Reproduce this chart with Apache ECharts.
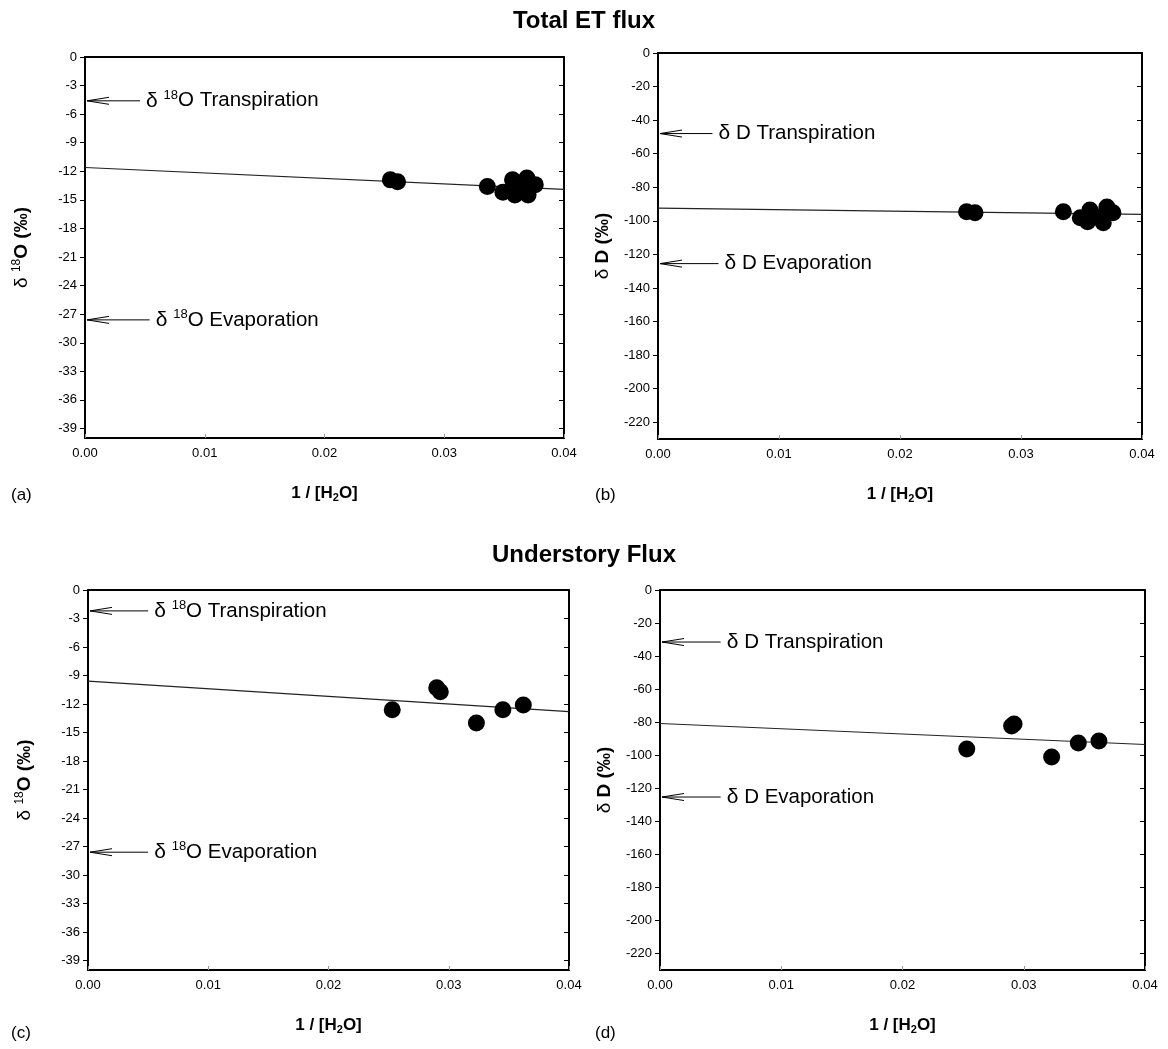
<!DOCTYPE html>
<html>
<head>
<meta charset="utf-8">
<script src="https://cdn.jsdelivr.net/npm/echarts@6/dist/echarts.min.js"></script>
<style>
html,body{margin:0;padding:0;background:#fff;}
#chart{width:1168px;height:1049px;}
</style>
</head>
<body>
<div id="chart"></div>
<script>
// ---------- data ----------
const xTicks = [0, 0.01, 0.02, 0.03, 0.04];
const yTicksO = [0, -3, -6, -9, -12, -15, -18, -21, -24, -27, -30, -33, -36, -39];
const yTicksD = [0, -20, -40, -60, -80, -100, -120, -140, -160, -180, -200, -220];

// (a) Total ET flux, d18O
const xA = [0.0255, 0.0261, 0.0336, 0.0349, 0.0357, 0.0359, 0.0369, 0.0370, 0.0376, 0.0365];
const yA = [-12.9, -13.1, -13.6, -14.2, -12.9, -14.5, -12.7, -14.5, -13.4, -13.7];
const lineA = [-11.6, -13.9];
// (b) Total ET flux, dD
const xB = [0.0255, 0.0262, 0.0335, 0.0349, 0.0357, 0.0355, 0.0371, 0.0368, 0.0376, 0.0363];
const yB = [-94.6, -95.2, -94.6, -98.2, -93.5, -100.6, -91.7, -101.2, -95.2, -97.6];
const lineB = [-92.4, -96.1];
// (c) Understory flux, d18O
const xC = [0.0253, 0.0290, 0.0293, 0.0323, 0.0345, 0.0362];
const yC = [-12.6, -10.3, -10.7, -14.0, -12.6, -12.1];
const lineC = [-9.6, -12.8];
// (d) Understory flux, dD
const xD = [0.0253, 0.0292, 0.0290, 0.0323, 0.0345, 0.0362];
const yD = [-96.2, -81.1, -82.3, -101.1, -92.6, -91.4];
const lineD = [-80.8, -93.5];
const lineX = [0, 0.04];

// annotations: [arrow tail x, y, kind]
const annoA = [[0.0046, -4.6, 'T'], [0.0054, -27.6, 'E']];
const annoB = [[0.0045, -48, 'T'], [0.0050, -125.5, 'E']];
const annoC = [[0.0050, -2.2, 'T'], [0.0050, -27.6, 'E']];
const annoD = [[0.0050, -31.5, 'T'], [0.0050, -125.3, 'E']];

// ---------- layout ----------
const FONT = 'Liberation Sans, Arial, Helvetica, sans-serif';
const grids = [
  {left: 85, top: 57, width: 479, height: 381},
  {left: 658, top: 53, width: 484, height: 386},
  {left: 88, top: 590, width: 481, height: 380},
  {left: 660, top: 590, width: 485, height: 380}
];
const panels = [
  {x: xA, y: yA, line: lineA, anno: annoA, iso: 'O', min: -40, ticks: yTicksO},
  {x: xB, y: yB, line: lineB, anno: annoB, iso: 'D', min: -230, ticks: yTicksD},
  {x: xC, y: yC, line: lineC, anno: annoC, iso: 'O', min: -40, ticks: yTicksO},
  {x: xD, y: yD, line: lineD, anno: annoD, iso: 'D', min: -230, ticks: yTicksD}
];

const frameLine = {show: true, onZero: false, lineStyle: {color: '#000', width: 2}};
const xAxes = [], yAxes = [], series = [];
panels.forEach((p, i) => {
  xAxes.push({
    gridIndex: i, type: 'value', min: 0, max: 0.04, position: 'bottom',
    axisLine: frameLine,
    axisTick: {show: true, inside: true, length: 4, customValues: xTicks, lineStyle: {color: '#999', width: 1}},
    axisLabel: {customValues: xTicks, formatter: v => v.toFixed(2), fontSize: 13, color: '#000', fontFamily: FONT, margin: 9},
    splitLine: {show: false},
    name: '{b|1 / [H}{s|2}{b|O]}',
    nameLocation: 'middle', nameGap: 46,
    nameTextStyle: {
      rich: {
        b: {fontSize: 17, fontWeight: 'bold', color: '#000', fontFamily: FONT},
        s: {fontSize: 11, fontWeight: 'bold', color: '#000', fontFamily: FONT, padding: [8, 0, 0, 0]}
      }
    }
  });
  xAxes.push({
    gridIndex: i, type: 'value', min: 0, max: 0.04, position: 'top',
    axisLine: frameLine,
    axisTick: {show: false}, axisLabel: {show: false}, splitLine: {show: false}
  });
  const yname = p.iso === 'O' ? '{d|δ }{s|18}{b|O (‰)}' : '{d|δ }{b|D (‰)}';
  yAxes.push({
    gridIndex: i, type: 'value', min: p.min, max: 0, position: 'left',
    axisLine: frameLine,
    axisTick: {show: true, inside: false, length: 5, customValues: p.ticks, lineStyle: {color: '#000', width: 1}},
    axisLabel: {customValues: p.ticks, fontSize: 13, color: '#000', fontFamily: FONT, margin: 8},
    splitLine: {show: false},
    name: yname, nameLocation: 'middle', nameRotate: 90, nameGap: p.iso === 'O' ? 52 : 46,
    nameTextStyle: {
      rich: {
        d: {fontSize: 19, color: '#000', fontFamily: FONT},
        b: {fontSize: 19, fontWeight: 'bold', color: '#000', fontFamily: FONT},
        s: {fontSize: 12, color: '#000', fontFamily: FONT, padding: [0, 0, 10, 0]}
      }
    }
  });
  yAxes.push({
    gridIndex: i, type: 'value', min: p.min, max: 0, position: 'right',
    axisLine: frameLine,
    axisTick: {show: true, inside: true, length: 5, customValues: p.ticks, lineStyle: {color: '#000', width: 1}},
    axisLabel: {show: false}, splitLine: {show: false}
  });

  series.push({
    type: 'line', xAxisIndex: 2 * i, yAxisIndex: 2 * i,
    data: lineX.map((x, k) => [x, p.line[k]]),
    symbol: 'none', lineStyle: {color: '#222', width: 1.2}, z: 2, silent: true
  });
  series.push({
    type: 'scatter', xAxisIndex: 2 * i, yAxisIndex: 2 * i,
    data: p.x.map((x, k) => [x, p.y[k]]),
    symbol: 'circle', symbolSize: 17, itemStyle: {color: '#000', opacity: 1}, z: 3, silent: true
  });
  series.push({
    type: 'custom', xAxisIndex: 2 * i, yAxisIndex: 2 * i, z: 4, silent: true,
    data: p.anno,
    renderItem: function (params, api) {
      const tailX = api.value(0), yv = api.value(1);
      const kind = p.anno[params.dataIndex][2];
      const tip = api.coord([0, yv]);
      const tail = api.coord([tailX, yv]);
      tip[0] += 2;
      const word = kind === 'T' ? 'Transpiration' : 'Evaporation';
      const txt = p.iso === 'O'
        ? '{d|δ }{s|18}{n|O ' + word + '}'
        : '{d|δ }{n|D ' + word + '}';
      return {
        type: 'group',
        children: [
          {type: 'line', shape: {x1: tail[0], y1: tail[1], x2: tip[0], y2: tip[1]},
           style: {stroke: '#000', lineWidth: 1}},
          {type: 'polyline', shape: {points: [[tip[0] + 22, tip[1] - 3.5], [tip[0], tip[1]], [tip[0] + 22, tip[1] + 3.5]]},
           style: {stroke: '#000', lineWidth: 1, fill: null}},
          {type: 'text', x: tail[0] + 6, y: tip[1],
           style: {
             text: txt, verticalAlign: 'middle', align: 'left',
             rich: {
               d: {fontSize: 21, fill: '#000', fontFamily: FONT},
               s: {fontSize: 13, fill: '#000', fontFamily: FONT, padding: [0, 0, 11, 0]},
               n: {fontSize: 20.5, fill: '#000', fontFamily: FONT}
             }
           }}
        ]
      };
    }
  });
});

const titleStyle = {fontSize: 24, fontWeight: 'bold', color: '#000', fontFamily: FONT};
const panelStyle = {fontSize: 17, fontWeight: 'normal', color: '#000', fontFamily: FONT};
const option = {
  backgroundColor: '#fff',
  animation: false,
  title: [
    {text: 'Total ET flux', left: 'center', top: 4, textStyle: titleStyle},
    {text: 'Understory Flux', left: 'center', top: 538, textStyle: titleStyle},
    {text: '(a)', left: 6, top: 482, textStyle: panelStyle},
    {text: '(b)', left: 590, top: 482, textStyle: panelStyle},
    {text: '(c)', left: 6, top: 1020, textStyle: panelStyle},
    {text: '(d)', left: 590, top: 1020, textStyle: panelStyle}
  ],
  grid: grids,
  xAxis: xAxes,
  yAxis: yAxes,
  series: series
};
const chart = echarts.init(document.getElementById('chart'), null, {renderer: 'canvas'});
chart.setOption(option);
</script>
</body>
</html>
